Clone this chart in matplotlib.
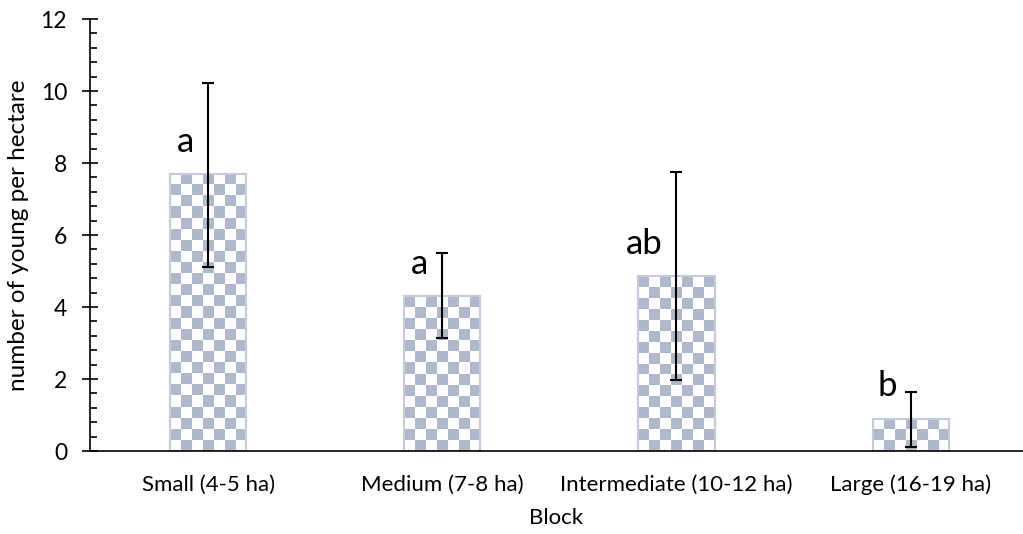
import numpy as np
import matplotlib
matplotlib.use('Agg')
import matplotlib.pyplot as plt
from matplotlib.ticker import MultipleLocator
from matplotlib.colors import ListedColormap

plt.rcParams['font.family'] = ['Lato', 'DejaVu Sans']

# data
blocks = ['Small (4-5 ha)', 'Medium (7-8 ha)', 'Intermediate (10-12 ha)', 'Large (16-19 ha)']
young = [7.7, 4.3, 4.85, 0.9]
err_upper = [10.22, 5.5, 7.75, 1.65]
err_lower = [5.12, 3.15, 1.97, 0.12]
letters = ['a', 'a', 'ab', 'b']

checker_col = '#aeb9cd'
edge_col = '#c3cbdc'

fig = plt.figure(figsize=(10.23, 5.34), dpi=100)
ax = fig.add_axes([0.088, 0.1554, 0.912, 0.809])

x = np.arange(len(blocks))
ax.set_xlim(-0.505, 3.48)
ax.set_ylim(0, 12)

# bar shapes (used as clip paths for the checker fill)
bars = ax.bar(x, young, width=0.325, facecolor='white', edgecolor='none', zorder=1)

# checkerboard fill, clipped to each bar
fig.canvas.draw()
cmap = ListedColormap(['white', checker_col])
for b in bars:
    x0, y0 = b.get_x(), b.get_y()
    w, h = b.get_width(), b.get_height()
    p0 = ax.transData.transform((x0, y0))
    p1 = ax.transData.transform((x0 + w, y0 + h))
    nx = max(1, int(round((p1[0] - p0[0]) / 11.0)))
    ny = max(1, int(round((p1[1] - p0[1]) / 11.0)))
    ii, jj = np.indices((ny, nx))
    grid = (ii + jj) % 2
    im = ax.imshow(grid, cmap=cmap, extent=(x0, x0 + w, y0 + h, y0), origin='upper',
                   aspect='auto', interpolation='nearest', zorder=2)
    im.set_clip_path(b)
# outline on top
ax.bar(x, young, width=0.325, facecolor='none', edgecolor=edge_col, linewidth=1.5, zorder=2.5)
ax.set_xlim(-0.505, 3.48)
ax.set_ylim(0, 12)

# error bars
lo = np.array(young) - np.array(err_lower)
hi = np.array(err_upper) - np.array(young)
ax.errorbar(x, young, yerr=[lo, hi], fmt='none', ecolor='black', elinewidth=1.5,
            capsize=4.3, capthick=1.5, zorder=3)

# significance letters
for xi, lt, top in zip(x, letters, young):
    ax.text(xi - 0.06, top + 0.45, lt, ha='right', va='bottom', fontsize=25)

# axes styling
ax.spines['top'].set_visible(False)
ax.spines['right'].set_visible(False)
ax.spines['left'].set_linewidth(1.2)
ax.spines['bottom'].set_linewidth(1.2)
ax.yaxis.set_major_locator(MultipleLocator(2))
ax.yaxis.set_minor_locator(MultipleLocator(0.4))
ax.tick_params(axis='y', which='major', direction='inout', length=11, width=1.2,
               labelsize=16.5, pad=11)
ax.tick_params(axis='y', which='minor', direction='in', length=5, width=1.2)
ax.set_xticks(x)
ax.set_xticklabels(blocks)
ax.tick_params(axis='x', length=0, labelsize=16, pad=17)

ax.set_xlabel('Block', fontsize=16, labelpad=9)
ax.set_ylabel('number of young per hectare', fontsize=17.5, labelpad=8)

fig.savefig('out.png', dpi=100)
